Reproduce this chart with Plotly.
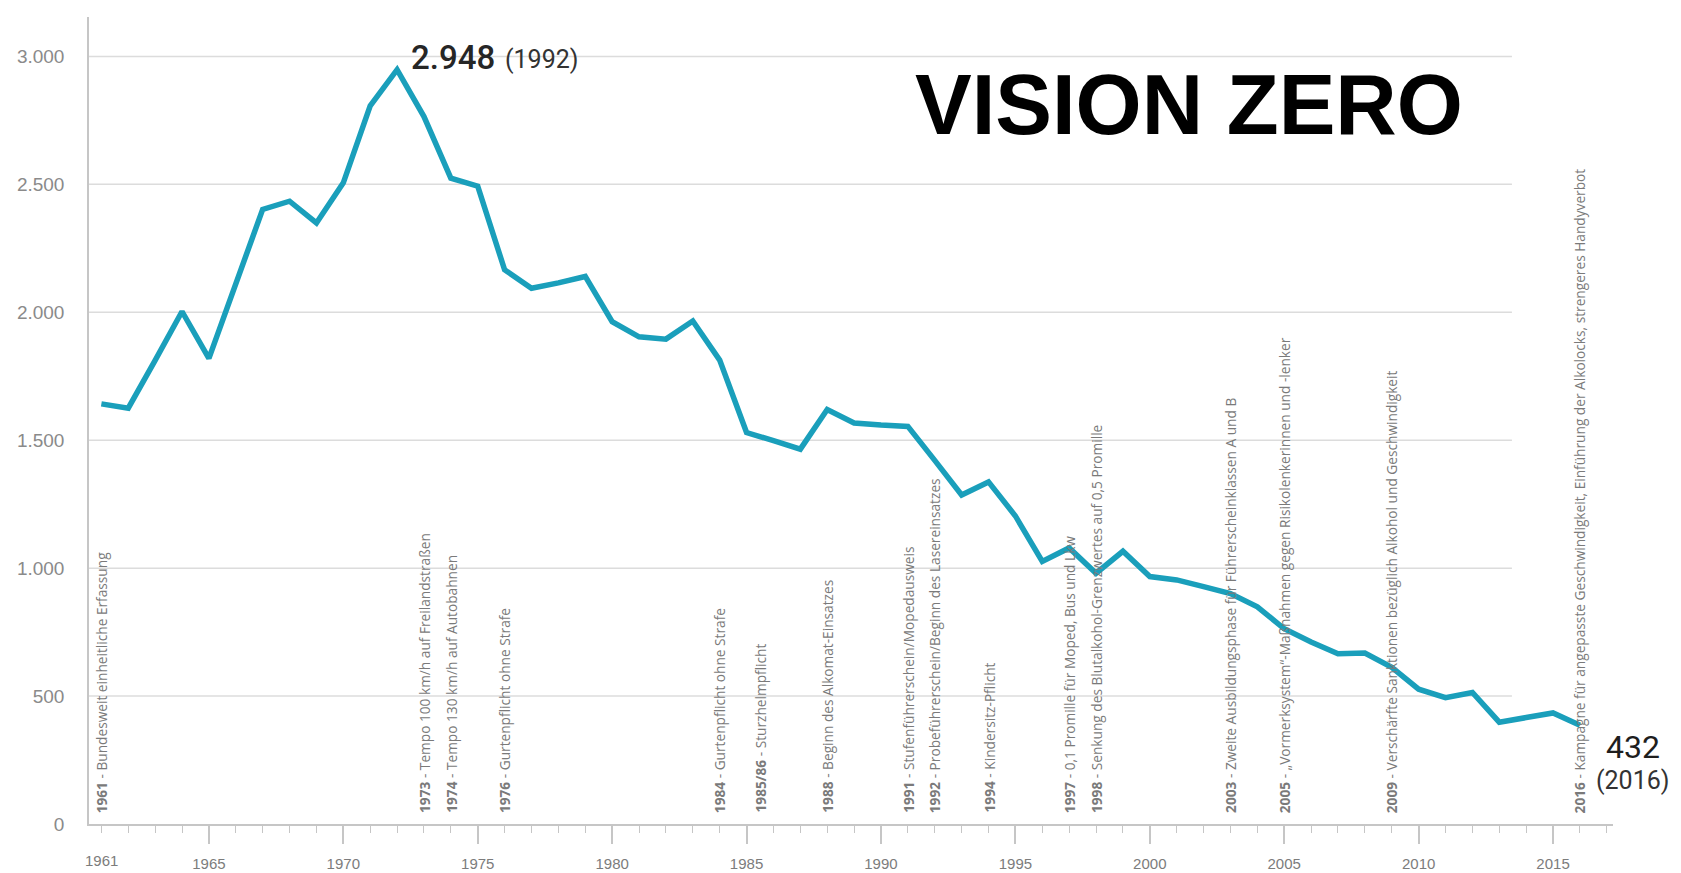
import plotly.graph_objects as go

years = list(range(1961, 2017))
deaths = [1642, 1625, 1812, 2003, 1820, 2110, 2402, 2434, 2349, 2506,
          2807, 2948, 2765, 2524, 2493, 2166, 2094, 2115, 2140, 1963,
          1904, 1895, 1966, 1813, 1530, 1498, 1465, 1620, 1567, 1559,
          1554, 1421, 1286, 1337, 1204, 1026, 1079, 980, 1066, 967,
          954, 928, 901, 849, 763, 711, 665, 668, 612, 527,
          494, 514, 398, 416, 434, 386]

event_years = [1961, 1973, 1974, 1976, 1984, 1985.5, 1988, 1991, 1992, 1994,
               1997, 1998, 2003, 2005, 2009, 2016]
event_labels = ["1961", "1973", "1974", "1976", "1984", "1985/86", "1988", "1991",
                "1992", "1994", "1997", "1998", "2003", "2005", "2009", "2016"]
event_texts = [
    "Bundesweit einheitliche Erfassung",
    "Tempo 100 km/h auf Freilandstraßen",
    "Tempo 130 km/h auf Autobahnen",
    "Gurtenpflicht ohne Strafe",
    "Gurtenpflicht ohne Strafe",
    "Sturzhelmpflicht",
    "Beginn des Alkomat-Einsatzes",
    "Stufenführerschein/Mopedausweis",
    "Probeführerschein/Beginn des Lasereinsatzes",
    "Kindersitz-Pflicht",
    "0,1 Promille für Moped, Bus und Lkw",
    "Senkung des Blutalkohol-Grenzwertes auf 0,5 Promille",
    "Zweite Ausbildungsphase für Führerscheinklassen A und B",
    "„Vormerksystem“-Maßnahmen gegen Risikolenkerinnen und -lenker",
    "Verschärfte Sanktionen bezüglich Alkohol und Geschwindigkeit",
    "Kampagne für angepasste Geschwindigkeit, Einführung der Alkolocks, strengeres Handyverbot",
]

x_tick_vals = [1961, 1965, 1970, 1975, 1980, 1985, 1990, 1995, 2000, 2005, 2010, 2015]
y_tick_vals = [0, 500, 1000, 1500, 2000, 2500, 3000]
y_tick_text = ["0", "500", "1.000", "1.500", "2.000", "2.500", "3.000"]

peak_label = "2.948"
peak_year_label = "(1992)"
end_label = "432"
end_year_label = "(2016)"
title_text = "VISION ZERO"

LINE = "#1a9fbb"
GRID = "#dcdcdc"
AXIS = "#c6c6c6"
TXT = "#7a7a7a"
TICKTXT = "#7c7c7c"

fig = go.Figure()
fig.add_trace(go.Scatter(x=years, y=deaths, mode="lines",
                         line=dict(color=LINE, width=5.5),
                         hoverinfo="x+y", showlegend=False))

for yv in y_tick_vals[1:]:
    fig.add_shape(type="line", xref="x", yref="y", x0=1960.54, x1=2013.47, y0=yv, y1=yv,
                  line=dict(color=GRID, width=1.5), layer="below")

for ey, lab, txt in zip(event_years, event_labels, event_texts):
    fig.add_annotation(x=ey, y=0, xref="x", yref="y", text="<b>" + lab + "</b> - " + txt,
                       textangle=-90, showarrow=False, xanchor="center", yanchor="bottom",
                       yshift=9, font=dict(family="Open Sans", size=13.7, color=TXT))

# first (minor-tick) year label
fig.add_annotation(x=x_tick_vals[0], y=0, xref="x", yref="paper", text=str(x_tick_vals[0]),
                   showarrow=False, xanchor="center", yanchor="middle", yshift=-36,
                   font=dict(family="Liberation Sans", size=15, color=TICKTXT))

pk_i = deaths.index(max(deaths))
fig.add_annotation(x=years[pk_i], y=deaths[pk_i], xref="x", yref="y",
                   text=peak_label, showarrow=False,
                   xanchor="left", yanchor="middle", xshift=12, yshift=12,
                   font=dict(family="Roboto", size=33, color="#262626", weight=500))
fig.add_annotation(x=years[pk_i], y=deaths[pk_i], xref="x", yref="y",
                   text=peak_year_label, showarrow=False,
                   xanchor="left", yanchor="middle", xshift=106, yshift=10,
                   font=dict(family="Roboto", size=25, color="#333333"))

fig.add_annotation(x=years[-1], y=deaths[-1], xref="x", yref="y",
                   text=end_label, showarrow=False, xanchor="center", yanchor="middle",
                   xshift=53, yshift=-22, font=dict(family="Roboto", size=32, color="#1e1e1e"))
fig.add_annotation(x=years[-1], y=deaths[-1], xref="x", yref="y",
                   text=end_year_label, showarrow=False, xanchor="center", yanchor="middle",
                   xshift=53, yshift=-55, font=dict(family="Roboto", size=25, color="#333333"))

fig.add_annotation(x=0.7215, y=0.892, xref="paper", yref="paper", text="<b>" + title_text + "</b>",
                   showarrow=False, xanchor="center", yanchor="middle",
                   font=dict(family="Liberation Sans", size=85, color="#000000"))

fig.update_layout(
    width=1681, height=873,
    margin=dict(l=79, r=76, t=9, b=47),
    plot_bgcolor="white", paper_bgcolor="white",
    showlegend=False,
    xaxis=dict(range=[1960.54, 2017.23], showgrid=False, zeroline=False,
               showline=True, linecolor=AXIS, linewidth=1.5,
               tickmode="array", tickvals=x_tick_vals[1:], ticktext=[str(v) for v in x_tick_vals[1:]],
               ticks="outside", ticklen=18, tickcolor=AXIS, tickwidth=1.5,
               ticklabelstandoff=7,
               tickfont=dict(family="Liberation Sans", size=15, color=TICKTXT),
               minor=dict(ticks="outside", ticklen=7, tickcolor=AXIS, tickwidth=1.2,
                          tickmode="linear", tick0=1961, dtick=1, showgrid=False)),
    yaxis=dict(range=[0, 3154], showgrid=False, zeroline=False,
               showline=True, linecolor=AXIS, linewidth=1.5,
               tickmode="array", tickvals=y_tick_vals, ticktext=y_tick_text,
               ticks="", ticklabelstandoff=19,
               tickfont=dict(family="Liberation Sans", size=19, color="#8a8a8a")),
)

fig.write_html("out.html")
